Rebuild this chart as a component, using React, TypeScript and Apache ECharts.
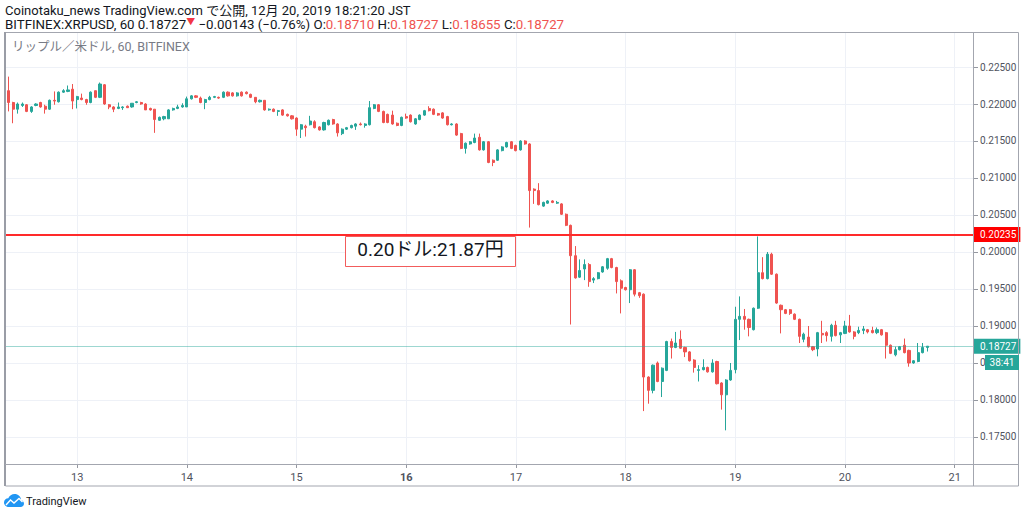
import React, { useEffect, useRef } from 'react';
import * as echarts from 'echarts';

const FONT = "Roboto, 'Noto Sans CJK JP', 'DejaVu Sans', sans-serif";

const PUBLISH_LINE = 'Coinotaku_news TradingView.com で公開, 12月 20, 2019 18:21:20 JST';
const SYMBOL = 'BITFINEX:XRPUSD, 60';
const CHANGE_TEXT = '−0.00143 (−0.76%)';
const PANE_TITLE = 'リップル／米ドル, 60, BITFINEX';
const NOTE_TEXT = '0.20ドル:21.87円';
const COUNTDOWN = '38:41';
const BRAND = 'TradingView';

// hourly slots: Dec 12 08:00 ... Dec 21 04:00
const START_DAY = 12;
const START_HOUR = 8;
const SLOT_COUNT = 213;
const BOLD_DAYS = ['16'];

const Y_MIN = 0.17135;
const Y_MAX = 0.22973;
const LEVEL_PRICE = 0.20235;

const UP = '#26a69a';
const DOWN = '#ef5350';

// [open, close, low, high], hourly from Dec 12 09:00 to Dec 20 18:00
const CANDLES: number[][] = [
  [0.2218, 0.2202, 0.2190, 0.2237], [0.2202, 0.2193, 0.2174, 0.2203], [0.2193, 0.2200, 0.2187, 0.2202], [0.2198, 0.2200, 0.2196, 0.2202],
  [0.2199, 0.2190, 0.2189, 0.2200], [0.2190, 0.2196, 0.2188, 0.2197], [0.2198, 0.2200, 0.2197, 0.2201], [0.2202, 0.2196, 0.2195, 0.2203],
  [0.2197, 0.2193, 0.2187, 0.2199], [0.2193, 0.2205, 0.2192, 0.2206], [0.2205, 0.2204, 0.2199, 0.2217], [0.2203, 0.2216, 0.2202, 0.2217],
  [0.2216, 0.2218, 0.2215, 0.2220], [0.2217, 0.2219, 0.2216, 0.2225], [0.2220, 0.2204, 0.2193, 0.2227], [0.2206, 0.2210, 0.2194, 0.2211],
  [0.2208, 0.2206, 0.2205, 0.2214], [0.2206, 0.2202, 0.2199, 0.2207], [0.2202, 0.2216, 0.2201, 0.2217], [0.2218, 0.2209, 0.2208, 0.2218],
  [0.2209, 0.2227, 0.2208, 0.2229], [0.2226, 0.2200, 0.2199, 0.2227], [0.2199, 0.2196, 0.2193, 0.2200], [0.2196, 0.2193, 0.2189, 0.2197],
  [0.2194, 0.2196, 0.2193, 0.2202], [0.2195, 0.2196, 0.2192, 0.2197], [0.2197, 0.2195, 0.2195, 0.2198], [0.2196, 0.2201, 0.2195, 0.2201],
  [0.2202, 0.2203, 0.2201, 0.2204], [0.2202, 0.2200, 0.2199, 0.2203], [0.2200, 0.2192, 0.2192, 0.2201], [0.2194, 0.2192, 0.2191, 0.2195],
  [0.2193, 0.2179, 0.2161, 0.2193], [0.2178, 0.2182, 0.2177, 0.2183], [0.2180, 0.2183, 0.2178, 0.2184], [0.2180, 0.2192, 0.2180, 0.2193],
  [0.2192, 0.2194, 0.2191, 0.2195], [0.2194, 0.2196, 0.2193, 0.2199], [0.2196, 0.2198, 0.2195, 0.2201], [0.2196, 0.2207, 0.2196, 0.2210],
  [0.2207, 0.2211, 0.2206, 0.2212], [0.2211, 0.2209, 0.2208, 0.2212], [0.2208, 0.2202, 0.2201, 0.2210], [0.2202, 0.2206, 0.2193, 0.2207],
  [0.2206, 0.2209, 0.2205, 0.2211], [0.2209, 0.2210, 0.2208, 0.2211], [0.2209, 0.2208, 0.2207, 0.2210], [0.2209, 0.2216, 0.2208, 0.2217],
  [0.2216, 0.2211, 0.2210, 0.2217], [0.2215, 0.2211, 0.2210, 0.2216], [0.2211, 0.2215, 0.2210, 0.2216], [0.2216, 0.2211, 0.2210, 0.2217],
  [0.2216, 0.2214, 0.2213, 0.2217], [0.2213, 0.2209, 0.2208, 0.2214], [0.2209, 0.2203, 0.2201, 0.2209], [0.2203, 0.2205, 0.2202, 0.2206],
  [0.2205, 0.2192, 0.2191, 0.2205], [0.2192, 0.2193, 0.2191, 0.2194], [0.2193, 0.2190, 0.2189, 0.2194], [0.2190, 0.2191, 0.2184, 0.2192],
  [0.2192, 0.2185, 0.2184, 0.2193], [0.2186, 0.2184, 0.2183, 0.2187], [0.2184, 0.2180, 0.2179, 0.2185], [0.2181, 0.2166, 0.2157, 0.2182],
  [0.2166, 0.2172, 0.2154, 0.2173], [0.2170, 0.2168, 0.2156, 0.2172], [0.2172, 0.2177, 0.2171, 0.2184], [0.2176, 0.2168, 0.2167, 0.2178],
  [0.2169, 0.2165, 0.2164, 0.2170], [0.2165, 0.2175, 0.2164, 0.2176], [0.2172, 0.2178, 0.2171, 0.2179], [0.2179, 0.2173, 0.2172, 0.2180],
  [0.2173, 0.2161, 0.2156, 0.2174], [0.2160, 0.2166, 0.2158, 0.2167], [0.2166, 0.2168, 0.2165, 0.2169], [0.2168, 0.2171, 0.2167, 0.2172],
  [0.2170, 0.2173, 0.2165, 0.2174], [0.2173, 0.2172, 0.2171, 0.2175], [0.2171, 0.2173, 0.2168, 0.2174], [0.2172, 0.2195, 0.2171, 0.2204],
  [0.2194, 0.2199, 0.2193, 0.2200], [0.2199, 0.2190, 0.2189, 0.2200], [0.2190, 0.2175, 0.2174, 0.2191], [0.2186, 0.2175, 0.2174, 0.2187],
  [0.2185, 0.2173, 0.2172, 0.2191], [0.2174, 0.2171, 0.2170, 0.2175], [0.2171, 0.2182, 0.2170, 0.2183], [0.2183, 0.2181, 0.2180, 0.2187],
  [0.2185, 0.2176, 0.2175, 0.2186], [0.2173, 0.2180, 0.2172, 0.2181], [0.2179, 0.2185, 0.2178, 0.2186], [0.2185, 0.2191, 0.2184, 0.2192],
  [0.2194, 0.2191, 0.2190, 0.2197], [0.2193, 0.2186, 0.2185, 0.2194], [0.2187, 0.2185, 0.2184, 0.2188], [0.2188, 0.2181, 0.2180, 0.2189],
  [0.2183, 0.2172, 0.2171, 0.2184], [0.2172, 0.2173, 0.2171, 0.2174], [0.2173, 0.2158, 0.2157, 0.2174], [0.2160, 0.2140, 0.2139, 0.2161],
  [0.2140, 0.2147, 0.2133, 0.2148], [0.2146, 0.2149, 0.2145, 0.2150], [0.2148, 0.2154, 0.2147, 0.2160], [0.2155, 0.2138, 0.2137, 0.2160],
  [0.2138, 0.2149, 0.2137, 0.2150], [0.2149, 0.2121, 0.2120, 0.2150], [0.2124, 0.2121, 0.2116, 0.2125], [0.2124, 0.2138, 0.2123, 0.2139],
  [0.2137, 0.2142, 0.2136, 0.2143], [0.2142, 0.2148, 0.2141, 0.2149], [0.2149, 0.2140, 0.2139, 0.2150], [0.2144, 0.2137, 0.2136, 0.2145],
  [0.2138, 0.2150, 0.2137, 0.2151], [0.2150, 0.2146, 0.2145, 0.2151], [0.2146, 0.2083, 0.2033, 0.2147], [0.2085, 0.2083, 0.2065, 0.2086],
  [0.2083, 0.2064, 0.2063, 0.2093], [0.2062, 0.2067, 0.2061, 0.2068], [0.2066, 0.2069, 0.2065, 0.2070], [0.2069, 0.2067, 0.2066, 0.2070],
  [0.2066, 0.2067, 0.2065, 0.2069], [0.2065, 0.2051, 0.2050, 0.2066], [0.2051, 0.2036, 0.2035, 0.2052], [0.2036, 0.1995, 0.1902, 0.2037],
  [0.1995, 0.1965, 0.1964, 0.2008], [0.1966, 0.1975, 0.1965, 0.1990], [0.1977, 0.1983, 0.1962, 0.1990], [0.1983, 0.1960, 0.1953, 0.1985],
  [0.1962, 0.1964, 0.1958, 0.1966], [0.1964, 0.1972, 0.1963, 0.1973], [0.1973, 0.1980, 0.1972, 0.1981], [0.1978, 0.1991, 0.1976, 0.1992],
  [0.1991, 0.1979, 0.1978, 0.1992], [0.1979, 0.1960, 0.1944, 0.1980], [0.1961, 0.1951, 0.1917, 0.1963], [0.1952, 0.1949, 0.1948, 0.1953],
  [0.1949, 0.1976, 0.1931, 0.1977], [0.1976, 0.1943, 0.1940, 0.1977], [0.1945, 0.1941, 0.1938, 0.1946], [0.1943, 0.1831, 0.1785, 0.1944],
  [0.1831, 0.1813, 0.1795, 0.1832], [0.1813, 0.1847, 0.1809, 0.1848], [0.1850, 0.1825, 0.1824, 0.1852], [0.1825, 0.1843, 0.1804, 0.1844],
  [0.1840, 0.1879, 0.1839, 0.1880], [0.1879, 0.1871, 0.1856, 0.1883], [0.1871, 0.1877, 0.1870, 0.1892], [0.1882, 0.1870, 0.1869, 0.1894],
  [0.1871, 0.1865, 0.1858, 0.1872], [0.1865, 0.1853, 0.1852, 0.1866], [0.1854, 0.1844, 0.1837, 0.1855], [0.1840, 0.1841, 0.1825, 0.1847],
  [0.1841, 0.1844, 0.1840, 0.1855], [0.1844, 0.1838, 0.1837, 0.1845], [0.1838, 0.1850, 0.1837, 0.1855], [0.1852, 0.1822, 0.1821, 0.1853],
  [0.1823, 0.1807, 0.1787, 0.1824], [0.1807, 0.1827, 0.1759, 0.1828], [0.1827, 0.1840, 0.1826, 0.1850], [0.1841, 0.1909, 0.1836, 0.1926],
  [0.1909, 0.1913, 0.1881, 0.1940], [0.1913, 0.1909, 0.1895, 0.1923], [0.1909, 0.1898, 0.1886, 0.1910], [0.1895, 0.1924, 0.1894, 0.1925],
  [0.1924, 0.1972, 0.1923, 0.2021], [0.1972, 0.1964, 0.1963, 0.1993], [0.1964, 0.1997, 0.1963, 0.2000], [0.1997, 0.1970, 0.1969, 0.1999],
  [0.1970, 0.1931, 0.1930, 0.1971], [0.1928, 0.1922, 0.1890, 0.1929], [0.1922, 0.1917, 0.1916, 0.1923], [0.1922, 0.1917, 0.1915, 0.1923],
  [0.1916, 0.1909, 0.1908, 0.1917], [0.1909, 0.1886, 0.1877, 0.1910], [0.1882, 0.1889, 0.1878, 0.1891], [0.1885, 0.1872, 0.1871, 0.1900],
  [0.1872, 0.1868, 0.1866, 0.1873], [0.1869, 0.1891, 0.1859, 0.1892], [0.1890, 0.1888, 0.1877, 0.1907], [0.1891, 0.1887, 0.1879, 0.1893],
  [0.1886, 0.1901, 0.1879, 0.1903], [0.1901, 0.1887, 0.1886, 0.1907], [0.1888, 0.1891, 0.1877, 0.1892], [0.1890, 0.1900, 0.1889, 0.1907],
  [0.1900, 0.1892, 0.1891, 0.1915], [0.1892, 0.1886, 0.1882, 0.1893], [0.1891, 0.1894, 0.1889, 0.1899], [0.1894, 0.1896, 0.1889, 0.1900],
  [0.1895, 0.1892, 0.1890, 0.1896], [0.1894, 0.1891, 0.1890, 0.1899], [0.1891, 0.1895, 0.1889, 0.1898], [0.1895, 0.1888, 0.1887, 0.1896],
  [0.1891, 0.1874, 0.1856, 0.1892], [0.1874, 0.1863, 0.1862, 0.1875], [0.1861, 0.1868, 0.1859, 0.1872], [0.1868, 0.1872, 0.1867, 0.1873],
  [0.1874, 0.1864, 0.1863, 0.1883], [0.1867, 0.1850, 0.1845, 0.1868], [0.1850, 0.1853, 0.1849, 0.1854], [0.1852, 0.1864, 0.1851, 0.1877],
  [0.1864, 0.1871, 0.1863, 0.1877], [0.18710, 0.18727, 0.18655, 0.18727],
];

const EMPTY = ['-', '-', '-', '-'];

const categories: string[] = [];
for (let i = 0; i < SLOT_COUNT; i++) {
  const t = START_HOUR + i;
  categories.push(`${START_DAY + Math.floor(t / 24)}|${t % 24}`);
}
const isDayStart = (_i: number, v: string) => String(v).split('|')[1] === '0';

const LOGO_PATH =
  'M5 13 C2.2 13 0 10.9 0 8.4 C0 6 1.9 4.2 4.3 4.2 C5.3 1.7 7.8 0 10.6 0 C14.1 0 16.8 2.6 17.1 5.9 C18.8 6.4 20 7.9 20 9.7 C20 11.6 18.5 13 16.6 13 Z';
echarts.graphic.registerShape('tvlogo', echarts.graphic.extendPath(LOGO_PATH, {}) as any);

function buildOption() {
  const last = CANDLES[CANDLES.length - 1];
  const [o, c, l, h] = last;
  const lastPrice = c;
  const k = (s: string) => `{k|${s}}`;
  const r = (s: string) => `{r|${s}}`;
  const line2 =
    k(`${SYMBOL} ${c.toFixed(5)}`) + `{t|▼}` + k(` ${CHANGE_TEXT} O:`) + r(o.toFixed(5)) +
    k(' H:') + r(h.toFixed(5)) + k(' L:') + r(l.toFixed(5)) + k(' C:') + r(c.toFixed(5));

  const border = '#a3a6af';
  const priceLabel = (bg: string) => ({
    show: true, position: 'end', distance: 1,
    backgroundColor: bg, color: '#ffffff', padding: [3, 4, 2, 6], fontSize: 10, fontFamily: FONT,
  });

  return {
    animation: false,
    backgroundColor: '#ffffff',
    grid: { left: 4, right: 51, top: 32, bottom: 50, containLabel: false },
    xAxis: {
      type: 'category',
      data: categories,
      boundaryGap: false,
      axisLine: { show: false },
      axisTick: { show: true, interval: isDayStart, length: 4, lineStyle: { color: '#9598a1' } },
      axisLabel: {
        interval: isDayStart,
        margin: 8,
        color: '#50535e',
        fontSize: 11,
        fontFamily: FONT,
        formatter: (v: string) => {
          const d = String(v).split('|')[0];
          return BOLD_DAYS.includes(d) ? `{b|${d}}` : d;
        },
        rich: { b: { fontWeight: 'bold', fontSize: 11, color: '#50535e', fontFamily: FONT } },
      },
      splitLine: { show: true, interval: isDayStart, lineStyle: { color: '#eef1f7', width: 1 } },
    },
    yAxis: {
      type: 'value',
      position: 'right',
      min: Y_MIN,
      max: Y_MAX,
      splitNumber: 10,
      axisLine: { show: false },
      axisTick: { show: true, length: 5, lineStyle: { color: '#9598a1' } },
      axisLabel: {
        showMinLabel: false,
        showMaxLabel: false,
        margin: 7,
        color: '#50535e',
        fontSize: 10,
        fontFamily: FONT,
        formatter: (v: number) => v.toFixed(5),
      },
      splitLine: { show: true, showMinLine: false, showMaxLine: false, lineStyle: { color: '#eef1f7', width: 1 } },
    },
    series: [
      {
        type: 'candlestick',
        data: [EMPTY, ...CANDLES],
        barWidth: 2.6,
        itemStyle: { color: UP, color0: DOWN, borderColor: UP, borderColor0: DOWN, borderWidth: 1 },
        markLine: {
          symbol: ['none', 'none'],
          silent: true,
          animation: false,
          precision: 5,
          data: [
            {
              yAxis: LEVEL_PRICE,
              lineStyle: { color: '#ff2a2a', width: 2, type: 'solid' },
              label: { ...priceLabel('#ff0000'), formatter: LEVEL_PRICE.toFixed(5) },
            },
            {
              yAxis: lastPrice,
              lineStyle: { color: 'rgba(38,166,154,0.45)', width: 1, type: 'solid' },
              label: { ...priceLabel(UP), formatter: lastPrice.toFixed(5) },
            },
          ],
        },
      },
    ],
    graphic: [
      { type: 'rect', z: 100, shape: { x: 5.5, y: 32.5, width: 1013, height: 453.5 }, style: { fill: 'none', stroke: border, lineWidth: 1 } },
      { type: 'line', z: 100, shape: { x1: 5, y1: 32, x2: 5, y2: 486 }, style: { stroke: '#9a9da6', lineWidth: 2 } },
      { type: 'line', z: 100, shape: { x1: 973.5, y1: 32, x2: 973.5, y2: 486 }, style: { stroke: border, lineWidth: 1 } },
      { type: 'line', z: 100, shape: { x1: 5, y1: 464.5, x2: 1019, y2: 464.5 }, style: { stroke: border, lineWidth: 1 } },
      {
        type: 'group', z: 100, x: 985, y: 355,
        children: [
          { type: 'rect', z: 100, shape: { x: 0, y: 0, width: 34, height: 15 }, style: { fill: UP } },
          { type: 'text', z: 101, x: 17, y: 7.5, style: { text: COUNTDOWN, fill: '#ffffff', fontSize: 10, fontFamily: FONT, align: 'center', verticalAlign: 'middle' } },
        ],
      },
      {
        type: 'group', z: 100, x: 345.5, y: 236.5,
        children: [
          { type: 'rect', z: 100, shape: { x: 0, y: 0, width: 170, height: 30 }, style: { fill: '#ffffff', stroke: '#f25c5c', lineWidth: 1 } },
          { type: 'text', z: 101, x: 85, y: 13, style: { text: NOTE_TEXT, fill: '#131722', fontSize: 19, fontFamily: FONT, align: 'center', verticalAlign: 'middle' } },
        ],
      },
      { type: 'text', z: 100, x: 5, y: 10, style: { text: PUBLISH_LINE, fill: '#131722', fontSize: 13, fontFamily: FONT, verticalAlign: 'middle' } },
      {
        type: 'text', z: 100, x: 5, y: 24,
        style: {
          text: line2, verticalAlign: 'middle',
          rich: {
            k: { fill: '#131722', fontSize: 13.3, fontFamily: FONT },
            r: { fill: DOWN, fontSize: 13.3, fontFamily: FONT },
            t: { fill: '#f23645', fontSize: 9, fontFamily: FONT, verticalAlign: 'top' },
          },
        },
      },
      { type: 'text', z: 100, x: 12, y: 46, style: { text: PANE_TITLE, fill: '#787b86', fontSize: 12.5, fontFamily: FONT, verticalAlign: 'middle' } },
      { type: 'tvlogo', z: 100, x: 4, y: 494, scaleX: 1, scaleY: 1, style: { fill: '#2196f3' } },
      {
        type: 'polyline', z: 101,
        shape: { points: [[6, 505], [10.5, 500], [14, 503], [19, 498.5], [22.5, 502]] },
        style: { stroke: '#ffffff', lineWidth: 1.4, fill: 'none' },
      },
      { type: 'text', z: 100, x: 26, y: 501, style: { text: BRAND, fill: '#131722', fontSize: 11, fontFamily: FONT, verticalAlign: 'middle' } },
    ],
  };
}

export default function App() {
  const ref = useRef<HTMLDivElement>(null);
  useEffect(() => {
    if (!ref.current) return;
    const chart = echarts.init(ref.current, null, { renderer: 'svg' });
    chart.setOption(buildOption() as any);
    return () => chart.dispose();
  }, []);
  return (
    <div
      ref={ref}
      style={{ position: 'absolute', left: 0, top: 0, width: 1024, height: 514, background: '#ffffff' }}
    />
  );
}
